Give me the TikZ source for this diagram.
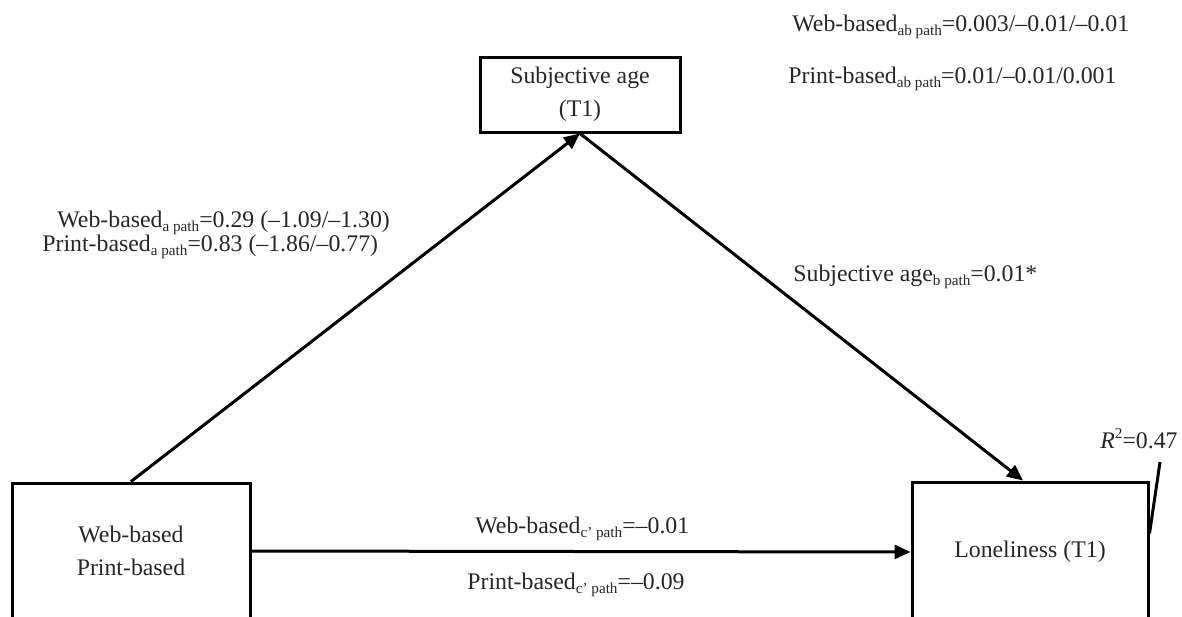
\documentclass[tikz,border=0pt]{standalone}
\usepackage{fontspec}
\setmainfont{Liberation Serif}
\usetikzlibrary{arrows.meta}
\newcommand\pathsub[1]{\raisebox{-0.45ex}{\fontsize{7.6pt}{8pt}\selectfont #1}}
\newcommand\rsup[1]{\raisebox{0.9ex}{\fontsize{7.6pt}{8pt}\selectfont #1}}
\begin{document}
\begin{tikzpicture}[x=0.5pt,y=-0.5pt,
  every node/.style={font=\fontsize{11.9pt}{16.5pt}\selectfont, inner sep=0pt, text=black!85},
  varbox/.style={draw=black, line width=1.5pt, align=center},
  conn/.style={line width=1.5pt, -{Triangle[length=8pt,width=7pt]}},
  lbl/.style={anchor=base west}]
\useasboundingbox (0,0) rectangle (1182,616);
% variable boxes
\node[varbox, minimum width=119pt, minimum height=68pt] (iv) at (131,551) {Web-based\\Print-based};
\node[varbox, minimum width=100pt, minimum height=37.5pt] (sa) at (580,94.5) {Subjective age\\(T1)};
\node[varbox, minimum width=118pt, minimum height=70pt] (lo) at (1030,552) {Loneliness (T1)};
% connectors
\draw[conn] (iv.north) -- (sa.south);
\draw[conn] (sa.south) -- ([xshift=-3.5pt]lo.north);
\draw[conn] (iv.east) -- (lo.west);
% R squared
\node[lbl] (r2) at (1100,448) {\textit{R}\rsup{2}=0.47};
\coordinate (r2end) at (1160,462);
\draw[line width=1.5pt] ([yshift=-26.5pt]lo.north east) -- (r2end);
% labels
\node[lbl] (abw) at (792,31) {Web-based\pathsub{ab path}=0.003/–0.01/–0.01};
\node[lbl] (abp) at (788,83) {Print-based\pathsub{ab path}=0.01/–0.01/0.001};
\node[lbl] (aw) at (57,227) {Web-based\pathsub{a path}=0.29 (–1.09/–1.30)};
\node[lbl] (ap) at (42,251) {Print-based\pathsub{a path}=0.83 (–1.86/–0.77)};
\node[lbl] (bp) at (793,281) {Subjective age\pathsub{b path}=0.01*};
\node[lbl] (cw) at (475,533) {Web-based\pathsub{c’ path}=–0.01};
\node[lbl] (cp) at (467,589) {Print-based\pathsub{c’ path}=–0.09};
\end{tikzpicture}
\end{document}
